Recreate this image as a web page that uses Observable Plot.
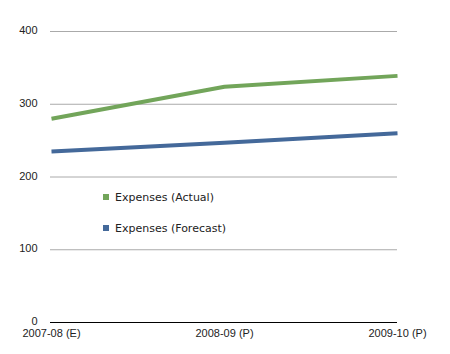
<!DOCTYPE html>
<html>
<head>
<meta charset="utf-8">
<script src="https://cdn.jsdelivr.net/npm/d3@7"></script>
<script src="https://cdn.jsdelivr.net/npm/@observablehq/plot@0.6"></script>
<style>
  html, body { margin: 0; padding: 0; background: #fff; }
  #wrap { position: relative; width: 450px; height: 354px; font-family: "Liberation Sans", Arial, sans-serif; }
  .legend { position: absolute; left: 103px; font-size: 11px; color: #222; font-family: "DejaVu Sans", sans-serif; }
  .legend span.sw { display: inline-block; width: 6px; height: 6px; margin-right: 6px; vertical-align: 1px; }
</style>
</head>
<body>
<div id="wrap"></div>
<script>
const categories = ["2007-08 (E)", "2008-09 (P)", "2009-10 (P)"];
const actual = [280, 324, 339];
const forecast = [235, 247, 260];
const yTicks = [0, 100, 200, 300, 400];
const seriesNames = ["Expenses (Actual)", "Expenses (Forecast)"];
const seriesColors = ["#72a55a", "#44699a"];

const rows = [];
categories.forEach((c, i) => {
  rows.push({cat: c, value: actual[i], series: seriesNames[0]});
  rows.push({cat: c, value: forecast[i], series: seriesNames[1]});
});

const chart = Plot.plot({
  width: 450,
  height: 354,
  marginLeft: 50,
  marginRight: 53,
  marginTop: 31,
  marginBottom: 32,
  style: {fontFamily: "'Liberation Sans', Arial, sans-serif", fontSize: "11px", color: "#222"},
  x: {type: "point", domain: categories, padding: 0, label: null},
  y: {domain: [0, 400], ticks: yTicks, label: null},
  color: {domain: seriesNames, range: seriesColors},
  marks: [
    Plot.ruleY(yTicks.filter(d => d > 0), {stroke: "#aaa", strokeWidth: 1}),
    Plot.axisY({ticks: yTicks, tickSize: 0, tickPadding: 13, fontSize: 11, dy: -1}),
    Plot.axisX({tickSize: 0, tickPadding: 6, fontSize: 11, dy: 1}),
    Plot.line(rows, {x: "cat", y: "value", z: "series", stroke: "series", strokeWidth: 4, strokeLinecap: "butt"}),
    Plot.ruleY([0], {stroke: "#000", strokeWidth: 1})
  ]
});
const wrap = document.getElementById("wrap");
wrap.appendChild(chart);
seriesNames.forEach((n, i) => {
  const d = document.createElement("div");
  d.className = "legend";
  d.style.top = (191 + i * 31) + "px";
  d.innerHTML = `<span class="sw" style="background:${seriesColors[i]}"></span>${n}`;
  wrap.appendChild(d);
});
</script>
</body>
</html>
